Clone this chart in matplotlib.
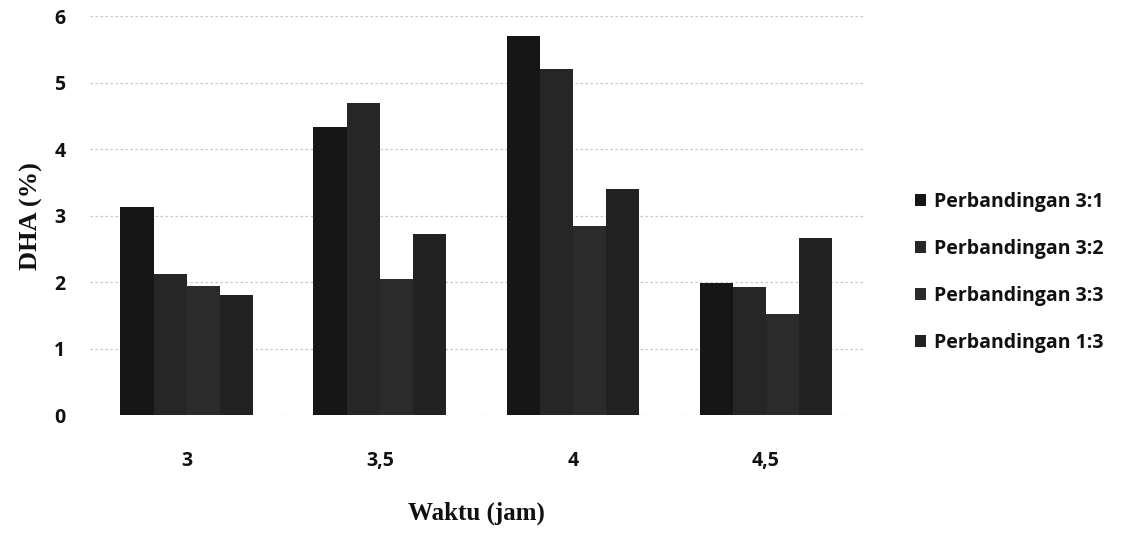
# Kadar DHA per waktu ekstraksi untuk tiap perbandingan
import matplotlib.pyplot as plt
import numpy as np

waktu = ['3', '3,5', '4', '4,5']
seri = ['Perbandingan 3:1', 'Perbandingan 3:2', 'Perbandingan 3:3', 'Perbandingan 1:3']
dha_31 = [3.13, 4.33, 5.70, 1.99]
dha_32 = [2.12, 4.69, 5.20, 1.93]
dha_33 = [1.94, 2.05, 2.84, 1.52]
dha_13 = [1.80, 2.72, 3.40, 2.66]
warna = ['#161616', '#262626', '#2b2b2b', '#222222']

fig = plt.figure(figsize=(11.29, 5.37), dpi=100)
ax = fig.add_axes([0.08, 0.227, 0.684, 0.743])

x = np.arange(len(waktu))
lebar = 0.172
for i, (nilai, nama) in enumerate(zip([dha_31, dha_32, dha_33, dha_13], seri)):
    ax.bar(x + (i - 1.5) * lebar, nilai, lebar, color=warna[i], label=nama, zorder=2)

ax.set_xlim(-0.5, 3.5)
ax.set_ylim(0, 6)
ax.set_yticks(range(7))
ax.grid(axis='y', color='#c8c8c8', linestyle=(0, (2, 2)), linewidth=0.9, zorder=0)
ax.set_xticks(x)
ax.set_xticklabels(waktu)
for s in ax.spines.values():
    s.set_visible(False)
ax.tick_params(length=0, labelsize=14)
ax.tick_params(axis='x', pad=26)
ax.tick_params(axis='y', pad=18)
for t in ax.get_xticklabels() + ax.get_yticklabels():
    t.set_fontfamily('Open Sans')
    t.set_fontweight('bold')
    t.set_color('#111111')

ax.set_xlabel('Waktu (jam)', family='Liberation Serif', fontweight='bold', fontsize=18, labelpad=22, color='#111111')
ax.set_ylabel('DHA (%)', family='Liberation Serif', fontweight='bold', fontsize=19, labelpad=8, color='#111111')

leg = fig.legend(loc='center left', bbox_to_anchor=(0.795, 0.493), frameon=False,
                 prop={'family': 'Open Sans', 'weight': 'bold', 'size': 14},
                 handlelength=0.55, handleheight=0.55, handletextpad=0.4, labelspacing=1.39)
for t in leg.get_texts():
    t.set_color('#111111')

fig.savefig('out.png', dpi=100)
